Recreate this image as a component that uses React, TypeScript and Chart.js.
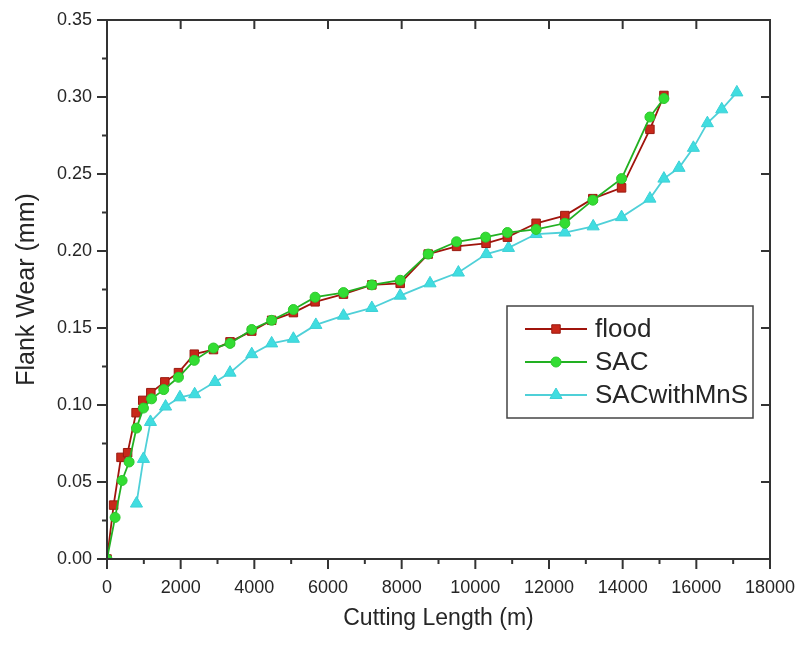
import React, { useEffect, useRef } from 'react';
import { Chart, registerables } from 'chart.js';

Chart.register(...registerables);

// ---- data ----
const seriesLabels = ['flood', 'SAC', 'SACwithMnS'];

const floodX = [0, 180, 380, 560, 790, 970, 1190, 1570, 1940, 2370, 2890, 3340, 3930, 4470, 5060, 5650, 6420, 7190, 7960, 8720, 9490, 10290, 10870, 11650, 12430, 13190, 13970, 14740, 15120];
const floodY = [0, 0.035, 0.066, 0.069, 0.095, 0.103, 0.108, 0.115, 0.121, 0.133, 0.136, 0.141, 0.148, 0.155, 0.160, 0.167, 0.172, 0.178, 0.179, 0.198, 0.203, 0.205, 0.209, 0.218, 0.223, 0.234, 0.241, 0.279, 0.301];

const sacX = [0, 220, 410, 600, 800, 990, 1210, 1540, 1940, 2370, 2890, 3340, 3930, 4470, 5060, 5650, 6420, 7190, 7960, 8720, 9490, 10280, 10870, 11650, 12430, 13190, 13970, 14740, 15120];
const sacY = [0, 0.027, 0.051, 0.063, 0.085, 0.098, 0.104, 0.110, 0.118, 0.129, 0.137, 0.140, 0.149, 0.155, 0.162, 0.170, 0.173, 0.178, 0.181, 0.198, 0.206, 0.209, 0.212, 0.214, 0.218, 0.233, 0.247, 0.287, 0.299];

const mnsX = [0, 800, 990, 1180, 1590, 1980, 2380, 2930, 3340, 3930, 4470, 5060, 5670, 6420, 7190, 7960, 8770, 9540, 10300, 10900, 11650, 12430, 13200, 13970, 14740, 15120, 15530, 15920, 16300, 16690, 17100];
const mnsY = [0, 0.036, 0.065, 0.089, 0.099, 0.105, 0.107, 0.115, 0.121, 0.133, 0.140, 0.143, 0.152, 0.158, 0.163, 0.171, 0.179, 0.186, 0.198, 0.202, 0.211, 0.212, 0.216, 0.222, 0.234, 0.247, 0.254, 0.267, 0.283, 0.292, 0.303];

const xMajorTicks = [0, 2000, 4000, 6000, 8000, 10000, 12000, 14000, 16000, 18000];
const xMinorTicks = [1000, 3000, 5000, 7000, 9000, 11000, 13000, 15000, 17000];
const yMajorTicks = [0, 0.05, 0.1, 0.15, 0.2, 0.25, 0.3, 0.35];
const yMinorTicks = [0.025, 0.075, 0.125, 0.175, 0.225, 0.275, 0.325];

const xTitle = 'Cutting Length (m)';
const yTitle = 'Flank Wear (mm)';

const FONT = "'Liberation Sans', Arial, sans-serif";
const AXIS = '#333333';
const TEXT = '#262626';

const pts = (xs: number[], ys: number[]) => xs.map((x, i) => ({ x, y: ys[i] }));

const framePlugin = {
  id: 'frame',
  afterDatasetsDraw(chart: any) {
    const { ctx, chartArea: a, scales } = chart;
    const x = scales.x;
    const y = scales.y;
    ctx.save();
    ctx.strokeStyle = AXIS;
    ctx.lineWidth = 2;
    ctx.strokeRect(a.left, a.top, a.right - a.left, a.bottom - a.top);
    const seg = (x1: number, y1: number, x2: number, y2: number) => {
      ctx.beginPath();
      ctx.moveTo(x1, y1);
      ctx.lineTo(x2, y2);
      ctx.stroke();
    };
    ctx.lineWidth = 2;
    xMajorTicks.forEach((v) => {
      const p = x.getPixelForValue(v);
      seg(p, a.bottom, p, a.bottom + 10);
      seg(p, a.top, p, a.top + 9);
    });
    xMinorTicks.forEach((v) => {
      const p = x.getPixelForValue(v);
      seg(p, a.bottom, p, a.bottom + 5);
    });
    yMajorTicks.forEach((v) => {
      const p = y.getPixelForValue(v);
      seg(a.left - 10, p, a.left, p);
      seg(a.right - 9, p, a.right, p);
    });
    yMinorTicks.forEach((v) => {
      const p = y.getPixelForValue(v);
      seg(a.left - 5, p, a.left, p);
    });
    ctx.restore();
  },
};

function drawMarker(ctx: CanvasRenderingContext2D, style: string, cx: number, cy: number, r: number) {
  ctx.beginPath();
  if (style === 'rect') {
    const s = Math.SQRT1_2 * r;
    ctx.rect(cx - s, cy - s, 2 * s, 2 * s);
  } else if (style === 'circle') {
    ctx.arc(cx, cy, r, 0, Math.PI * 2);
  } else {
    ctx.moveTo(cx, cy - r);
    ctx.lineTo(cx + Math.cos(Math.PI / 6) * r, cy + r / 2);
    ctx.lineTo(cx - Math.cos(Math.PI / 6) * r, cy + r / 2);
    ctx.closePath();
  }
  ctx.fill();
  ctx.stroke();
}

const legendPlugin = {
  id: 'boxLegend',
  afterDraw(chart: any) {
    const { ctx, chartArea: a } = chart;
    const bx = a.right - 263;
    const by = a.top + 286;
    const bw = 246;
    const bh = 112;
    ctx.save();
    ctx.fillStyle = '#ffffff';
    ctx.fillRect(bx, by, bw, bh);
    ctx.strokeStyle = '#444444';
    ctx.lineWidth = 1.5;
    ctx.strokeRect(bx, by, bw, bh);
    chart.data.datasets.forEach((ds: any, i: number) => {
      const cy = by + 23 + i * 33;
      ctx.strokeStyle = ds.borderColor;
      ctx.lineWidth = ds.borderWidth;
      ctx.beginPath();
      ctx.moveTo(bx + 18, cy);
      ctx.lineTo(bx + 80, cy);
      ctx.stroke();
      ctx.fillStyle = ds.pointBackgroundColor;
      ctx.strokeStyle = ds.pointBorderColor;
      ctx.lineWidth = 1;
      drawMarker(ctx, ds.pointStyle, bx + 49, cy, ds.pointRadius);
      ctx.fillStyle = TEXT;
      ctx.font = `26px ${FONT}`;
      ctx.textBaseline = 'middle';
      ctx.textAlign = 'left';
      ctx.fillText(ds.label, bx + 88, cy + 1);
    });
    ctx.restore();
  },
};

const zeroPad = (s: any) => {
  s.paddingLeft = 0;
  s.paddingRight = 0;
  s.paddingTop = 0;
  s.paddingBottom = 0;
};

export default function App() {
  const ref = useRef<HTMLCanvasElement>(null);

  useEffect(() => {
    if (!ref.current) return;
    const chart = new Chart(ref.current, {
      type: 'line',
      data: {
        datasets: [
          {
            label: seriesLabels[0],
            data: pts(floodX, floodY),
            borderColor: '#a0140c',
            borderWidth: 1.8,
            pointStyle: 'rect',
            pointRadius: 6,
            pointBackgroundColor: '#c8281a',
            pointBorderColor: '#9a1a10',
            pointBorderWidth: 1,
            tension: 0,
            order: 1,
          },
          {
            label: seriesLabels[1],
            data: pts(sacX, sacY),
            borderColor: '#22b022',
            borderWidth: 1.8,
            pointStyle: 'circle',
            pointRadius: 5,
            pointBackgroundColor: '#33dd33',
            pointBorderColor: '#2cc82c',
            pointBorderWidth: 1,
            tension: 0,
            order: 0,
          },
          {
            label: seriesLabels[2],
            data: pts(mnsX, mnsY),
            borderColor: '#4fd0d8',
            borderWidth: 1.8,
            pointStyle: 'triangle',
            pointRadius: 7,
            pointBackgroundColor: '#40dde0',
            pointBorderColor: '#3cd0d6',
            pointBorderWidth: 1,
            tension: 0,
            order: 2,
            segment: {
              borderColor: (c: any) => (c.p0DataIndex === 0 ? 'rgba(0,0,0,0)' : '#4fd0d8'),
            },
          } as any,
        ],
      },
      options: {
        responsive: false,
        devicePixelRatio: 1,
        animation: false,
        layout: { padding: { left: 0, top: 20, right: 29, bottom: 0 } },
        plugins: {
          legend: { display: false },
          tooltip: { enabled: false },
        },
        scales: {
          x: {
            type: 'linear',
            min: 0,
            max: 18000,
            grid: { display: false, drawTicks: false },
            border: { display: false },
            afterBuildTicks: (s: any) => {
              s.ticks = xMajorTicks.map((v) => ({ value: v }));
            },
            afterFit: (s: any) => {
              s.height = 87;
              zeroPad(s);
            },
            ticks: {
              padding: 18,
              color: TEXT,
              font: { family: FONT, size: 18 },
              maxRotation: 0,
              autoSkip: false,
              callback: (v: any) => String(v),
            },
            title: {
              display: true,
              text: xTitle,
              color: TEXT,
              font: { family: FONT, size: 23 },
              padding: { top: 0, bottom: 14 },
            },
          },
          y: {
            type: 'linear',
            min: 0,
            max: 0.35,
            grid: { display: false, drawTicks: false },
            border: { display: false },
            afterBuildTicks: (s: any) => {
              s.ticks = yMajorTicks.map((v) => ({ value: v }));
            },
            afterFit: (s: any) => {
              s.width = 107;
              zeroPad(s);
            },
            ticks: {
              padding: 15,
              color: TEXT,
              font: { family: FONT, size: 18 },
              autoSkip: false,
              callback: (v: any) => Number(v).toFixed(2),
            },
            title: {
              display: true,
              text: yTitle,
              color: TEXT,
              font: { family: FONT, size: 25 },
              padding: { top: 12, bottom: 0 },
            },
          },
        },
      },
      plugins: [framePlugin, legendPlugin],
    });
    return () => chart.destroy();
  }, []);

  return (
    <div style={{ position: 'absolute', left: 0, top: 0, width: 799, height: 646, background: '#ffffff' }}>
      <canvas ref={ref} width={799} height={646} style={{ display: 'block', width: 799, height: 646 }} />
    </div>
  );
}
